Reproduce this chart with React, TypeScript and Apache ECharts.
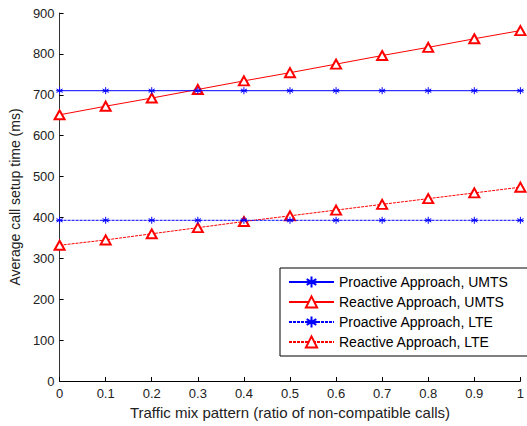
import React, { useEffect, useRef } from "react";
import * as echarts from "echarts";

const xValues = [0, 0.1, 0.2, 0.3, 0.4, 0.5, 0.6, 0.7, 0.8, 0.9, 1];
const proactiveUMTS = [710, 710, 710, 710, 710, 710, 710, 710, 710, 710, 710];
const reactiveUMTS = [651, 672, 692, 713, 734, 754, 775, 796, 816, 837, 857];
const proactiveLTE = [393, 393, 393, 393, 393, 393, 393, 393, 393, 393, 393];
const reactiveLTE = [332, 345, 360, 375, 390, 404, 418, 432, 446, 460, 474];
const seriesNames = [
  "Proactive Approach, UMTS",
  "Reactive Approach, UMTS",
  "Proactive Approach, LTE",
  "Reactive Approach, LTE",
];

const star = "path://M0,-5L0,5M-4.33,-2.5L4.33,2.5M-4.33,2.5L4.33,-2.5M-5,0L5,0";

export default function App() {
  const ref = useRef<HTMLDivElement>(null);
  useEffect(() => {
    if (!ref.current) return;
    const chart = echarts.init(ref.current, undefined, { renderer: "svg" });
    const font = "Liberation Sans, Arial, sans-serif";
    const pair = (arr: number[]) => xValues.map((x, i) => [x, arr[i]]);
    const mk = (name: string, arr: number[], color: string, isStar: boolean, dotted: boolean) => ({
      name,
      type: "line",
      data: pair(arr),
      symbol: isStar ? star : "emptyTriangle",
      symbolSize: isStar ? 7 : [10, 9],
      showSymbol: true,
      lineStyle: { color, width: 1, type: dotted ? [3, 1] : "solid" },
      itemStyle: isStar
        ? { color, borderColor: color, borderWidth: 1 }
        : { color, borderColor: color, borderWidth: 1.2 },
      emphasis: { disabled: true },
      z: isStar ? 3 : 2,
    });
    chart.setOption({
      animation: false,
      textStyle: { fontFamily: font },
      grid: { left: 56, right: 1, top: 13, bottom: 45, containLabel: false },
      legend: {
        left: 280,
        top: 268,
        orient: "vertical",
        backgroundColor: "#fff",
        borderColor: "#000",
        borderWidth: 1,
        padding: [7, 22, 7, 8],
        itemGap: 6,
        itemWidth: 45,
        itemHeight: 14,
        textStyle: { fontSize: 14, color: "#000", fontFamily: font },
        data: seriesNames,
        selectedMode: false,
      },
      xAxis: {
        type: "value",
        min: 0,
        max: 1,
        interval: 0.1,
        name: "Traffic mix pattern (ratio of non-compatible calls)",
        nameLocation: "middle",
        nameGap: 21,
        nameTextStyle: { fontSize: 15, color: "#222", fontFamily: font },
        axisLine: { lineStyle: { color: "#000", width: 1 } },
        axisTick: { inside: true, length: 4, lineStyle: { color: "#000" } },
        axisLabel: { fontSize: 13, color: "#222", margin: 6 },
        splitLine: { show: false },
      },
      yAxis: {
        type: "value",
        min: 0,
        max: 900,
        interval: 100,
        name: "Average call setup time (ms)",
        nameLocation: "middle",
        nameGap: 35,
        nameTextStyle: { fontSize: 14, color: "#222", fontFamily: font },
        axisLine: { show: true, lineStyle: { color: "#333", width: 1 } },
        axisTick: { show: true, inside: true, length: 4, lineStyle: { color: "#000" } },
        axisLabel: { fontSize: 13, color: "#222", margin: 5 },
        splitLine: { show: false },
      },
      series: [
        mk(seriesNames[0], proactiveUMTS, "#0000ff", true, false),
        mk(seriesNames[1], reactiveUMTS, "#ff0000", false, false),
        mk(seriesNames[2], proactiveLTE, "#0000ff", true, true),
        mk(seriesNames[3], reactiveLTE, "#ff0000", false, true),
      ],
    });
    return () => chart.dispose();
  }, []);
  return <div ref={ref} style={{ width: 527, height: 426, position: "absolute", left: 0, top: 0 }} />;
}
